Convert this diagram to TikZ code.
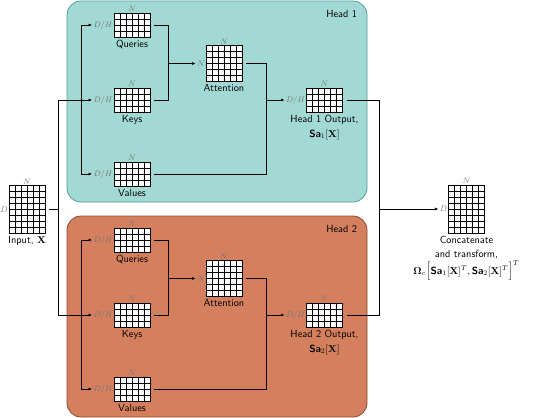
\documentclass[tikz,border=0pt]{standalone}
\usepackage{amsmath,bm}
\usetikzlibrary{arrows.meta,calc}
\definecolor{tealfill}{HTML}{A3D9D4}
\definecolor{tealedge}{HTML}{4E9E95}
\definecolor{orgfill}{HTML}{D4805F}
\definecolor{orgedge}{HTML}{8B4A36}
\definecolor{dimgray}{HTML}{737373}
\newcommand\mkmat[5]{%
  \node[matbox, minimum width=#4*6pt, minimum height=#5*6pt] (#1) at (#2,#3) {};
  \foreach \k in {1,...,#4}{\draw[gridln] ($(#1.south west)+(\k*6pt,0pt)$) -- ($(#1.north west)+(\k*6pt,0pt)$);}
  \foreach \k in {1,...,#5}{\draw[gridln] ($(#1.south west)+(0pt,\k*6pt)$) -- ($(#1.south east)+(0pt,\k*6pt)$);}
}
\tikzset{
  matbox/.style={draw=black, fill=white, line width=0.9pt, inner sep=0pt, outer sep=0pt},
  gridln/.style={line width=0.75pt},
  dimlbl/.style={text=dimgray, font=\fontsize{8.2}{9}\selectfont, inner sep=1.2pt},
  lbl/.style={font=\fontsize{10.3}{14.5}\selectfont\sffamily, align=center, inner sep=1.8pt},
  below/.style={lbl, anchor=north, inner sep=0pt, yshift=-3pt},
  ln/.style={line width=0.9pt},
  arr/.style={ln, -{Latex[length=3.5pt,width=3pt]}},
  headbox/.style={minimum width=300pt, minimum height=201pt, rounded corners=14pt, line width=0.8pt, inner sep=0pt},
}
\begin{document}
\begin{tikzpicture}[x=1pt,y=-1pt]
\useasboundingbox (0,0) rectangle (539,418);
\foreach \h/\oy/\fc/\dc in {1/0/tealfill/tealedge, 2/215/orgfill/orgedge}{
  \node[headbox, fill=\fc, draw=\dc] (h\h) at (217,101.5+\oy) {};
  \node[lbl, anchor=east] (hl\h) at (359,14+\oy) {Head \h};
  % queries
  \mkmat{q\h}{132}{25+\oy}{6}{4}
  \node[dimlbl, anchor=east] (ql\h) at (q\h.west) {$D/H$};
  \node[dimlbl, anchor=south] (qn\h) at (q\h.north) {$N$};
  \node[below] (qt\h) at (q\h.south) {Queries};
  % keys
  \mkmat{k\h}{132}{100+\oy}{6}{4}
  \node[dimlbl, anchor=east] (kl\h) at (k\h.west) {$D/H$};
  \node[dimlbl, anchor=south] (kn\h) at (k\h.north) {$N$};
  \node[below] (kt\h) at (k\h.south) {Keys};
  % values
  \mkmat{v\h}{132}{174+\oy}{6}{4}
  \node[dimlbl, anchor=east] (vl\h) at (v\h.west) {$D/H$};
  \node[dimlbl, anchor=south] (vn\h) at (v\h.north) {$N$};
  \node[below] (vt\h) at (v\h.south) {Values};
  % attention
  \mkmat{a\h}{224}{63.5+\oy}{6}{6}
  \node[dimlbl, anchor=east] (al\h) at (a\h.west) {$N$};
  \node[dimlbl, anchor=south] (an\h) at (a\h.north) {$N$};
  \node[below] (at\h) at (a\h.south) {Attention};
  % output
  \mkmat{o\h}{324.5}{100+\oy}{6}{4}
  \node[dimlbl, anchor=east] (ol\h) at (o\h.west) {$D/H$};
  \node[dimlbl, anchor=south] (on\h) at (o\h.north) {$N$};
  \node[below] (ot\h) at (o\h.south) {Head \h{} Output,\\ $\textsf{\textbf{Sa}}_{\h}[\mathbf{X}]$};
  % connectors
  \coordinate (bus\h) at (81,100+\oy);
  \coordinate (jq\h) at (168,63.5+\oy);
  \coordinate (ja\h) at (266,100+\oy);
  \draw[arr] (bus\h) |- (ql\h.west);
  \draw[arr] (bus\h) |- (vl\h.west);
  \draw[ln, shorten <=4pt] (q\h.east) -| (jq\h);
  \draw[ln, shorten <=4pt] (k\h.east) -| (jq\h);
  \draw[arr] (jq\h) -- (al\h.west);
  \draw[ln, shorten <=4pt] (a\h.east) -| (ja\h);
  \draw[ln, shorten <=4pt] (v\h.east) -| (ja\h);
  \draw[arr] (ja\h) -- (ol\h.west);
}
% input
\mkmat{in}{27}{209.5}{6}{8}
\node[dimlbl, anchor=east] (inl) at (in.west) {$D$};
\node[dimlbl, anchor=south] (inn) at (in.north) {$N$};
\node[below] (int) at (in.south) {Input, $\mathbf{X}$};
% concat
\mkmat{cc}{466.5}{209}{6}{8}
\node[dimlbl, anchor=east] (ccl) at (cc.west) {$D$};
\node[dimlbl, anchor=south] (ccn) at (cc.north) {$N$};
\node[below] (cct) at (cc.south) {Concatenate\\ and transform,\\ $\boldsymbol{\Omega}_c\Big[\textsf{\textbf{Sa}}_1[\mathbf{X}]^T, \textsf{\textbf{Sa}}_2[\mathbf{X}]^T\Big]^T$};
% input connectors
\coordinate (ji) at (58,209.5);
\draw[ln, shorten <=4pt] (in.east) -- (ji);
\draw[arr] (ji) |- (kl1.west);
\draw[arr] (ji) |- (kl2.west);
% output connectors
\coordinate (jo) at (379,209);
\draw[ln, shorten <=4pt] (o1.east) -| (jo);
\draw[ln, shorten <=4pt] (o2.east) -| (jo);
\draw[arr] (jo) -- (ccl.west);
\end{tikzpicture}
\end{document}
